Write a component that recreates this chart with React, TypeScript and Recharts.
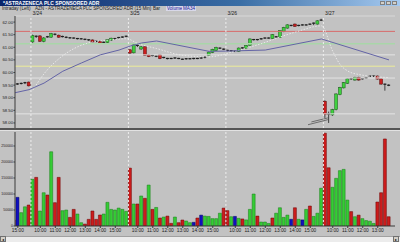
import React from "react";
import {
  ComposedChart,
  Bar,
  Line,
  XAxis,
  YAxis,
  ReferenceLine,
  Cell,
} from "recharts";

// 15 min bars, AZN 3/23 (last hour) .. 3/27 (morning)
const opens = [
  59.52, 59.53, 59.55, 59.56, 59.62,
  61.21, 61.44, 61.45, 61.23, 61.40, 61.40, 61.52, 61.48, 61.41, 61.40, 61.38, 61.36, 61.35, 61.33, 61.32, 61.30, 61.29, 61.22, 61.24, 61.18, 61.19, 61.28, 61.35, 61.36, 61.39, 61.42,
  60.90, 60.78, 61.08, 60.93, 61.02, 60.70, 60.66, 60.65, 60.70, 60.58, 60.56, 60.55, 60.56, 60.56, 60.53, 60.53, 60.55, 60.54, 60.56, 60.56, 60.58, 60.68, 60.79, 60.87, 60.97, 60.93,
  60.88, 60.86, 60.85, 60.84, 60.96, 60.95, 61.08, 61.31, 61.29, 61.32, 61.36, 61.37, 61.34, 61.42, 61.39, 61.62, 61.76, 61.87, 61.92, 61.85, 61.88, 61.89, 61.91, 61.90, 61.92, 62.06,
  58.86, 58.30, 58.32, 58.53, 59.12, 59.39, 59.57, 59.73, 59.70, 59.81, 59.74, 59.77, 59.84, 59.85, 59.86, 59.75, 59.54, 59.49,
];
const closes = [
  59.54, 59.55, 59.57, 59.60, 59.47,
  61.47, 61.40, 61.24, 61.37, 61.42, 61.54, 61.50, 61.40, 61.43, 61.38, 61.36, 61.37, 61.33, 61.34, 61.30, 61.27, 61.21, 61.24, 61.16, 61.20, 61.30, 61.36, 61.33, 61.39, 61.41, 61.44,
  60.77, 61.10, 61.03, 61.02, 60.68, 60.63, 60.68, 60.63, 60.55, 60.60, 60.54, 60.56, 60.58, 60.55, 60.52, 60.55, 60.54, 60.56, 60.55, 60.58, 60.61, 60.81, 60.92, 61.00, 60.95, 60.91,
  60.86, 60.87, 60.83, 60.97, 60.98, 61.07, 61.33, 61.29, 61.31, 61.34, 61.37, 61.36, 61.50, 61.40, 61.66, 61.79, 61.89, 61.85, 61.83, 61.87, 61.89, 61.88, 61.92, 61.96, 62.05, 62.08,
  58.33, 58.36, 58.53, 59.15, 59.41, 59.60, 59.75, 59.76, 59.81, 59.70, 59.76, 59.79, 59.86, 59.86, 59.74, 59.54, 59.48, 59.50,
];
const highs = [
  59.57, 59.58, 59.60, 59.63, 59.64,
  61.50, 61.47, 61.48, 61.40, 61.45, 61.57, 61.55, 61.50, 61.46, 61.43, 61.40, 61.39, 61.37, 61.36, 61.34, 61.32, 61.31, 61.26, 61.26, 61.23, 61.32, 61.38, 61.37, 61.41, 61.43, 61.46,
  60.92, 61.14, 61.12, 61.05, 61.04, 60.72, 60.70, 60.67, 60.72, 60.62, 60.58, 60.58, 60.60, 60.58, 60.55, 60.57, 60.57, 60.58, 60.58, 60.60, 60.63, 60.83, 60.94, 61.02, 60.99, 60.95,
  60.90, 60.89, 60.87, 60.99, 61.00, 61.09, 61.35, 61.33, 61.33, 61.36, 61.39, 61.39, 61.52, 61.44, 61.68, 61.81, 61.91, 61.89, 61.94, 61.89, 61.91, 61.91, 61.94, 61.98, 62.07, 62.13,
  58.90, 58.45, 58.56, 59.17, 59.43, 59.62, 59.77, 59.79, 59.83, 59.83, 59.78, 59.81, 59.88, 59.88, 59.88, 59.77, 59.56, 59.53,
];
const lows = [
  59.50, 59.51, 59.53, 59.54, 59.45,
  61.18, 61.37, 61.21, 61.20, 61.38, 61.38, 61.47, 61.38, 61.39, 61.36, 61.34, 61.34, 61.31, 61.31, 61.28, 61.25, 61.19, 61.20, 61.14, 61.16, 61.17, 61.26, 61.31, 61.34, 61.37, 61.40,
  60.74, 60.76, 61.01, 60.90, 60.66, 60.61, 60.64, 60.61, 60.53, 60.56, 60.52, 60.53, 60.54, 60.53, 60.50, 60.51, 60.52, 60.52, 60.53, 60.54, 60.56, 60.66, 60.77, 60.85, 60.93, 60.89,
  60.84, 60.84, 60.81, 60.82, 60.94, 60.93, 61.06, 61.27, 61.27, 61.30, 61.34, 61.34, 61.32, 61.38, 61.37, 61.60, 61.74, 61.83, 61.81, 61.83, 61.86, 61.86, 61.89, 61.88, 61.90, 62.04,
  58.20, 58.00, 58.28, 58.50, 59.10, 59.37, 59.55, 59.71, 59.68, 59.68, 59.72, 59.75, 59.82, 59.83, 59.72, 59.52, 59.28, 59.46,
];

const volumes = [
  18750, 89600, 41700, 60000, 65600,
  145800, 152000, 46900, 104000, 96900, 232000, 72900, 152000, 47900, 50000, 27000, 52000, 37500, 10400, 6000, 20800, 46900, 20800, 34400, 37500, 74000, 52000, 50000, 56000, 52000, 45800,
  181000, 68800, 68800, 93800, 86500, 128000, 52000, 58000, 25000, 28000, 31000, 8300, 28000, 10400, 18750, 15600, 10400, 11500, 25000, 34000, 31000, 30000, 23000, 23000, 40000, 56000,
  48000, 29000, 30000, 24000, 22000, 19000, 52000, 100000, 31000, 12500, 12500, 8000, 25000, 40000, 57000, 27000, 34000, 21000, 57000, 21000, 19000, 52000, 62500, 30000, 40000, 118000,
  290000, 182000, 121000, 149000, 173000, 177000, 81000, 45000, 29000, 34000, 23000, 17000, 15000, 8000, 75000, 104000, 272000, 29000,
];
// u = up, d = down, f = unchanged
const volDir = [
  "d", "f", "u", "u", "d",
  "u", "d", "u", "u", "d", "u", "d", "d", "u", "u", "d", "d", "u", "u", "d", "d", "d", "d", "d", "u", "u", "u", "u", "u", "u", "u",
  "d", "u", "d", "u", "d", "u", "d", "u", "d", "u", "d", "d", "u", "d", "d", "u", "u", "f", "d", "f", "u", "u", "u", "u", "u", "d",
  "d", "u", "f", "u", "d", "u", "u", "u", "d", "u", "u", "u", "d", "u", "u", "u", "u", "f", "d", "u", "f", "u", "d", "u", "u", "u",
  "d", "d", "u", "u", "u", "u", "u", "d", "u", "d", "u", "u", "u", "u", "d", "d", "d", "d",
];

// moving averages, read at a few bars only (gaps are joined by the line)
const ma34Points: Record<number, number> = {
  0: 59.19, 4: 59.32, 8: 59.58, 13: 60.05, 18: 60.38, 23: 60.7, 28: 60.89,
  31: 61.05, 34: 61.17, 38: 61.25, 52: 60.84, 57: 60.85, 67: 60.89, 82: 61.33, 100: 60.5,
};
const maFastPoints: Record<number, number> = {
  5: 59.3, 8: 59.95, 12: 60.55, 16: 60.95, 20: 61.18, 25: 61.28, 30: 61.34,
  33: 61.15, 38: 60.95, 45: 60.68, 52: 60.62, 58: 60.8, 65: 61.1, 75: 61.6, 82: 61.85,
  85: 60.84, 87: 60.31, 89: 60.06, 92: 59.92, 100: 59.8,
};

const priceTicks = [58, 58.5, 59, 59.5, 60, 60.5, 61, 61.5, 62];
const volTicks = [0, 50000, 100000, 150000, 200000, 250000];
const levelPrices = [61.63, 61.14, 60.7, 60.25, 59.78, 58.36];
const levelColors = ["#d86a6a", "#a9d6a9", "#e4e4e4", "#ecec98", "#e4e4e4", "#e4e4e4"];

const dayBreaks = [4.5, 30.5, 56.5, 82.5];
const dayNames = ["3/24", "3/25", "3/26", "3/27"];

const timeTicks = [1, 7, 11, 15, 19, 23, 27, 33, 37, 41, 45, 49, 53, 59, 63, 67, 71, 75, 79, 85, 89, 93, 97];
const timeLabels = ["15:00", "10:00", "11:00", "12:00", "13:00", "14:00", "15:00", "10:00", "11:00", "12:00", "13:00", "14:00", "15:00", "10:00", "11:00", "12:00", "13:00", "14:00", "15:00", "10:00", "11:00", "12:00", "13:00"];

// hand drawn lines under the 3/27 open
const annotations = [
  [78.4, 57.93, 83.7, 58.13],
  [79.3, 58.04, 83.7, 58.2],
];

const rows = opens.map((o, i) => ({
  i,
  open: o,
  close: closes[i],
  high: highs[i],
  low: lows[i],
  volume: volumes[i],
  dir: volDir[i],
  ma34: ma34Points[i] ?? null,
  maFast: maFastPoints[i] ?? null,
}));

const X_DOMAIN: [number, number] = [0.25, 101.6];
const FONT = "Liberation Sans, Arial, sans-serif";
const BG = "#c2c2c2";

const volFill: Record<string, string> = { u: "#35cc35", d: "#cc1c1c", f: "#1010c0" };
const volStroke: Record<string, string> = { u: "#167a16", d: "#6a0000", f: "#000060" };

const Candle = (props: any) => {
  const { x, y, width, height, payload } = props;
  if (!payload || height === undefined) return null;
  const top = Math.min(y, y + height);
  const h = Math.abs(height);
  const { open, close, high, low } = payload;
  const ppu = h / (high - low);
  const bTop = top + (high - Math.max(open, close)) * ppu;
  const bBot = top + (high - Math.min(open, close)) * ppu;
  const cx = x + width / 2;
  const bodyH = bBot - bTop;
  const up = close >= open;
  return (
    <g>
      <line x1={cx} x2={cx} y1={top} y2={top + h} stroke="#1e1e1e" strokeWidth={0.8} />
      {bodyH < 1.6 ? (
        <rect x={x} y={bTop - 0.5} width={width} height={1.2} fill="#1e1e1e" />
      ) : (
        <rect
          x={x}
          y={bTop}
          width={width}
          height={bodyH}
          fill={up ? "#3fd03f" : "#c81e1e"}
          stroke={up ? "#1d5a1d" : "#5a0d0d"}
          strokeWidth={0.5}
        />
      )}
    </g>
  );
};

const dayLabel = (text: string) => (props: any) => {
  const vb = props.viewBox;
  if (!vb) return null;
  return (
    <text x={vb.x + 1.5} y={vb.y - 1.5} fontSize={5} fill="#222" fontFamily={FONT}>
      {text}
    </text>
  );
};

const App = () => {
  return (
    <div
      style={{
        position: "absolute",
        left: 0,
        top: 0,
        width: 400,
        height: 242,
        background: BG,
        overflow: "hidden",
        fontFamily: FONT,
      }}
    >
      {/* window title */}
      <div
        style={{
          position: "absolute",
          left: 0,
          top: 0,
          width: 400,
          height: 6,
          background: "linear-gradient(90deg, #0a246a 0%, #3a6ea5 60%, #a6caf0 100%)",
        }}
      >
        <div style={{ position: "absolute", left: 3, top: 0, fontSize: 5, lineHeight: "6px", color: "#fff", fontWeight: "bold" }}>
          *ASTRAZENECA PLC SPONSORED ADR
        </div>
        {[380, 386, 392].map((l) => (
          <div
            key={l}
            style={{
              position: "absolute",
              left: l,
              top: 0.5,
              width: 5,
              height: 4.5,
              background: "#d4d0c8",
              border: "0.5px solid #808080",
              boxSizing: "border-box",
            }}
          />
        ))}
      </div>

      {/* chart header */}
      <div style={{ position: "absolute", left: 0, top: 6, width: 400, height: 5, fontSize: 4.6, lineHeight: "5px", color: "#222", whiteSpace: "nowrap" }}>
        <span style={{ position: "absolute", left: 2 }}>Intraday (Left)</span>
        <span style={{ position: "absolute", left: 35 }}>AZN - ASTRAZENECA PLC SPONSORED ADR (15 Min)</span>
        <span style={{ position: "absolute", left: 153 }}>Bar</span>
        <span style={{ position: "absolute", left: 166, color: "#1a1aa0", background: "#d8d8e8", padding: "0 1px" }}>Volume</span>
        <span style={{ position: "absolute", left: 182, color: "#1a1aa0", background: "#d8d8e8", padding: "0 1px" }}>MA34</span>
      </div>

      {/* price panel */}
      <div style={{ position: "absolute", left: 0, top: 10 }}>
        <ComposedChart width={400} height={118} data={rows} margin={{ top: 6, right: 5, bottom: 0, left: 0 }}>
          <XAxis dataKey="i" type="number" domain={X_DOMAIN} allowDataOverflow hide />
          <YAxis
            type="number"
            domain={[57.8, 62.24]}
            allowDataOverflow
            ticks={priceTicks}
            width={15}
            tickSize={1.5}
            tickMargin={0.5}
            tickFormatter={(v: number) => v.toFixed(2)}
            tick={{ fontSize: 4.2, fill: "#1a1a1a", fontFamily: FONT }}
            axisLine={{ stroke: "#3a3a3a" }}
            tickLine={{ stroke: "#3a3a3a" }}
          />
          <ReferenceLine y={62.24} stroke="#dedede" strokeWidth={0.8} />
          {levelPrices.map((p, k) => (
            <ReferenceLine key={"lv" + k} y={p} stroke={levelColors[k]} strokeWidth={k === 1 ? 1.5 : 1} />
          ))}
          {dayBreaks.map((d, k) => (
            <ReferenceLine key={"db" + k} x={d} stroke="#eeeeee" strokeDasharray="2 2" label={dayLabel(dayNames[k])} />
          ))}
          {annotations.map((a, k) => (
            <ReferenceLine
              key={"an" + k}
              segment={[
                { x: a[0], y: a[1] },
                { x: a[2], y: a[3] },
              ]}
              stroke="#555"
              strokeWidth={0.8}
            />
          ))}
          <Line
            dataKey="maFast"
            type="monotone"
            stroke="#ececec"
            strokeWidth={0.9}
            strokeDasharray="1.5 1.5"
            dot={false}
            connectNulls
            isAnimationActive={false}
          />
          <Line
            dataKey="ma34"
            type="linear"
            stroke="#6464a6"
            strokeWidth={1}
            dot={false}
            connectNulls
            isAnimationActive={false}
          />
          <Bar
            dataKey={(d: any) => [d.low, d.high]}
            barSize={3}
            shape={<Candle />}
            isAnimationActive={false}
          />
        </ComposedChart>
      </div>

      {/* panel separator */}
      <div style={{ position: "absolute", left: 0, top: 128, width: 400, height: 2, background: "#555" }} />
      <div style={{ position: "absolute", left: 0, top: 130, width: 400, height: 1, background: "#e2e2e2" }} />

      {/* volume panel */}
      <div style={{ position: "absolute", left: 0, top: 132 }}>
        <ComposedChart width={400} height={104} data={rows} margin={{ top: 0, right: 5, bottom: 0, left: 0 }}>
          <XAxis
            dataKey="i"
            type="number"
            domain={X_DOMAIN}
            allowDataOverflow
            ticks={timeTicks}
            height={10}
            tickSize={2}
            tickMargin={0.5}
            tickFormatter={(v: number) => timeLabels[timeTicks.indexOf(v)] ?? ""}
            tick={{ fontSize: 4.8, fill: "#1a1a1a", fontFamily: FONT }}
            axisLine={{ stroke: "#3a3a3a" }}
            tickLine={{ stroke: "#3a3a3a" }}
            interval={0}
          />
          <YAxis
            type="number"
            domain={[0, 293750]}
            allowDataOverflow
            ticks={volTicks}
            width={15}
            tickSize={1.5}
            tickMargin={0.5}
            tick={{ fontSize: 3.5, fill: "#1a1a1a", fontFamily: FONT }}
            axisLine={{ stroke: "#3a3a3a" }}
            tickLine={{ stroke: "#3a3a3a" }}
          />
          <Bar dataKey="volume" barSize={3} isAnimationActive={false}>
            {rows.map((r) => (
              <Cell key={r.i} fill={volFill[r.dir]} stroke={volStroke[r.dir]} strokeWidth={0.5} />
            ))}
          </Bar>
          {dayBreaks.map((d, k) => (
            <ReferenceLine key={"vb" + k} x={d} stroke="#eeeeee" strokeDasharray="2 2" />
          ))}
        </ComposedChart>
      </div>

      {/* scroll bar */}
      <div style={{ position: "absolute", left: 0, top: 236, width: 400, height: 6, background: "#ececec", borderTop: "1px solid #a0a0a0", boxSizing: "border-box" }} />
      <div style={{ position: "absolute", left: 0, top: 236, width: 6, height: 6, background: "#d4d0c8", border: "0.5px solid #707070", boxSizing: "border-box", fontSize: 4, lineHeight: "5px", textAlign: "center" }}>◂</div>
      <div style={{ position: "absolute", left: 393, top: 236, width: 6, height: 6, background: "#d4d0c8", border: "0.5px solid #707070", boxSizing: "border-box", fontSize: 4, lineHeight: "5px", textAlign: "center" }}>▸</div>
    </div>
  );
};

export default App;
